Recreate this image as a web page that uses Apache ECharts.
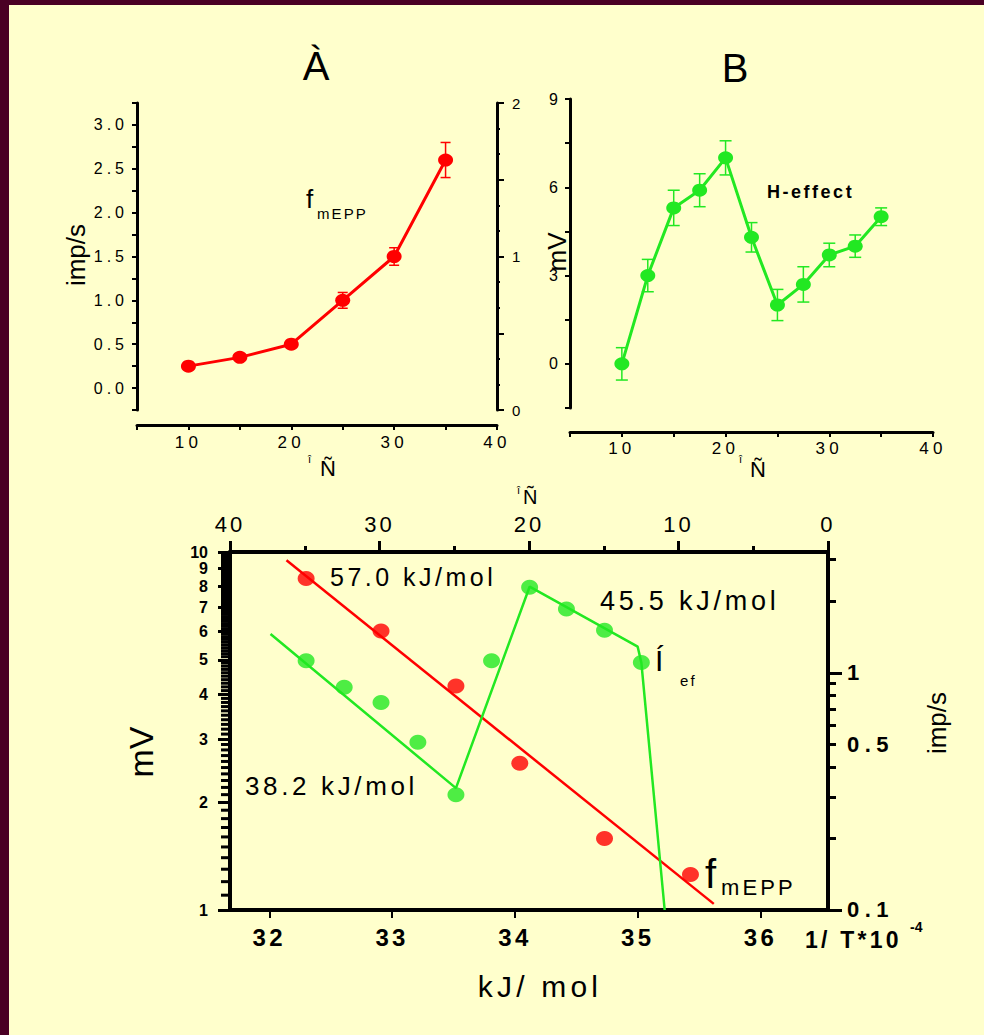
<!DOCTYPE html>
<html>
<head>
<meta charset="utf-8">
<script src="https://cdn.jsdelivr.net/npm/echarts@6/dist/echarts.min.js"></script>
<style>
  html, body { margin: 0; padding: 0; width: 984px; height: 1035px; overflow: hidden; background: #4a0024; }
  #panel { position: absolute; left: 9px; top: 5px; right: 0; bottom: 0; background: #ffffcc; }
  #chart { position: absolute; left: 0; top: 0; width: 984px; height: 1035px; }
  /* tracked lettering used by the labels and annotations */
  #chart text[style*="Liberation"] { letter-spacing: 0.14em; }
  #chart text[style*="DejaVu"] { letter-spacing: 0.25em; }
</style>
</head>
<body>
<div id="panel"></div>
<div id="chart"></div>
<script>
// ---- Panel A: mEPP frequency (imp/s) vs temperature (°C) ----
const tempA = [10, 15, 20, 25, 30, 35];
const fmeppA = [0.25, 0.35, 0.50, 1.00, 1.50, 2.60];
const fmeppErrA = [0.03, 0.03, 0.03, 0.09, 0.10, 0.20];

// ---- Panel B: H-effect (mV) vs temperature (°C) ----
const tempB = [10, 12.5, 15, 17.5, 20, 22.5, 25, 27.5, 30, 32.5, 35];
const hEffB = [0.0, 3.0, 5.3, 5.9, 7.0, 4.3, 2.0, 2.7, 3.7, 4.0, 5.0];
const hErrB = [0.55, 0.55, 0.60, 0.56, 0.58, 0.50, 0.53, 0.60, 0.40, 0.38, 0.30];

// ---- Panel C: Arrhenius plot, 1/T*10^-4 ----
const invTRed = [32.30, 32.91, 33.52, 34.04, 34.73, 35.43];
const fmeppC = [2.50, 1.50, 0.88, 0.415, 0.20, 0.141];
const fitRedX = [32.14, 35.62];
const fitRedY = [2.98, 0.106];
const invTGreen = [32.30, 32.61, 32.91, 33.21, 33.52, 33.81, 34.12, 34.42, 34.73, 35.03];
const hEffC = [4.97, 4.19, 3.80, 2.94, 2.10, 4.97, 7.97, 6.93, 6.05, 4.91];
const fitGreenX = [32.01, 33.52, 34.12, 35.00, 35.03, 35.22];
const fitGreenY = [5.90, 2.19, 8.00, 5.44, 4.91, 1.00];

// ---- tick labels ----
const invTTicks = [32, 33, 34, 35, 36];
const mVLogTicks = [1, 2, 3, 4, 5, 6, 7, 8, 9, 10];
const mVLabelsMain = [1, 2, 3, 4, 5, 6, 7, 8, 10];
const mVLabelsExtra = [9];
const mVLogFine = [];
for (let d = 1; d < 10; d++) for (let k = 1; k < 10; k++) mVLogFine.push(+(d + k / 10).toFixed(1));
const impLabels = [0.1, 0.5, 1];
const impMajorTicks = [0.1, 1];

const RED = '#ff0000';
const GREEN = '#22e822';
const FONT = "Arial, sans-serif";                          // plain lettering
const FONT_SP = "'Liberation Sans', Arial, sans-serif";    // tracked lettering
const FONT_WIDE = "'Liberation Sans', 'DejaVu Sans', sans-serif"; // widely tracked lettering
const zip = (...cols) => cols[0].map((_, i) => cols.map(c => c[i]));

function errorBars(color, halfCap) {
  return function (params, api) {
    const x = api.value(0), y = api.value(1), e = api.value(2);
    const top = api.coord([x, y + e]);
    const bot = api.coord([x, y - e]);
    const st = { stroke: color, lineWidth: 1.5 };
    return {
      type: 'group',
      children: [
        { type: 'line', shape: { x1: top[0], y1: top[1], x2: bot[0], y2: bot[1] }, style: st },
        { type: 'line', shape: { x1: top[0] - halfCap, y1: top[1], x2: top[0] + halfCap, y2: top[1] }, style: st },
        { type: 'line', shape: { x1: bot[0] - halfCap, y1: bot[1], x2: bot[0] + halfCap, y2: bot[1] }, style: st }
      ]
    };
  };
}

// fine 0.1-step ticks hanging off the left edge of the log mV axis
function fineTicks(params, api) {
  const c = api.coord([api.value(0), api.value(1)]);
  const x0 = params.coordSys.x;
  return { type: 'line', shape: { x1: x0 - 9, y1: c[1], x2: x0, y2: c[1] },
    style: { stroke: '#000', lineWidth: 3 } };
}

const axisLine = (w) => ({ show: true, onZero: false, lineStyle: { color: '#000', width: w } });
const noSplit = { show: false };
const plotC = { left: 230, top: 552, width: 598, height: 358, outerBoundsMode: 'none', containLabel: false };
const mVLabelStyle = { margin: 22, color: '#000', fontSize: 16, fontWeight: 'bold', fontFamily: FONT, hideOverlap: false };

const option = {
  animation: false,
  backgroundColor: 'transparent',
  textStyle: { fontFamily: FONT, color: '#000' },
  grid: [
    { left: 137, top: 103, width: 360, height: 307, outerBoundsMode: 'none', containLabel: false },
    { left: 570, top: 99, width: 363, height: 309, outerBoundsMode: 'none', containLabel: false },
    plotC,
    Object.assign({}, plotC) // same rectangle, carries the label for 9
  ],
  xAxis: [
    { // A: temperature
      type: 'value', gridIndex: 0, min: 5, max: 40, interval: 5, offset: 15,
      axisLine: axisLine(3), splitLine: noSplit,
      axisTick: { show: true, length: 5, lineStyle: { color: '#000', width: 2 } },
      axisLabel: { margin: 9, color: '#000', fontSize: 17, fontFamily: FONT_WIDE, hideOverlap: false,
        formatter: v => (v % 10 === 0 ? String(v) : '') }
    },
    { // B: temperature
      type: 'value', gridIndex: 1, min: 5, max: 40, interval: 5, offset: 24,
      axisLine: axisLine(3), splitLine: noSplit,
      axisTick: { show: true, length: 5, lineStyle: { color: '#000', width: 2 } },
      axisLabel: { margin: 8, color: '#000', fontSize: 17, fontFamily: FONT_WIDE, hideOverlap: false,
        formatter: v => (v % 10 === 0 ? String(v) : '') }
    },
    { // C bottom: 1/T
      type: 'value', gridIndex: 2, min: 31.68, max: 36.55, position: 'bottom',
      axisLine: axisLine(4), splitLine: noSplit,
      axisTick: { show: true, length: 8, customValues: invTTicks, lineStyle: { color: '#000', width: 2 } },
      axisLabel: { margin: 15, color: '#000', fontSize: 24, fontWeight: 'bold', fontFamily: FONT_SP,
        customValues: invTTicks, hideOverlap: false }
    },
    { // C top: temperature, decreasing to the right
      type: 'value', gridIndex: 2, min: 0, max: 40, interval: 10, inverse: true, position: 'top',
      axisLine: axisLine(4), splitLine: noSplit,
      axisTick: { show: true, length: 11, lineStyle: { color: '#000', width: 3 } },
      minorTick: { show: true, splitNumber: 2, length: 6, lineStyle: { color: '#000', width: 3 } },
      axisLabel: { margin: 17, color: '#000', fontSize: 22, fontFamily: FONT_SP, hideOverlap: false }
    },
    { // companion x for the second rectangle
      type: 'value', gridIndex: 3, min: 31.68, max: 36.55, show: false
    }
  ],
  yAxis: [
    { // 0: A imp/s
      type: 'value', gridIndex: 0, min: -0.25, max: 3.25, interval: 0.25, position: 'left',
      axisLine: axisLine(3), splitLine: noSplit,
      axisTick: { show: true, length: 5, lineStyle: { color: '#000', width: 2 } },
      axisLabel: { margin: 9, color: '#000', fontSize: 16, fontFamily: FONT_WIDE, hideOverlap: false,
        formatter: v => (Math.abs(v * 2 - Math.round(v * 2)) < 1e-6 ? v.toFixed(1) : '') }
    },
    { // 1: A right scale
      type: 'value', gridIndex: 0, min: 0, max: 2, interval: 0.5, position: 'right',
      axisLine: axisLine(3), splitLine: noSplit,
      axisTick: { show: true, length: 7, lineStyle: { color: '#000', width: 2 } },
      minorTick: { show: true, splitNumber: 3, length: 3, lineStyle: { color: '#000', width: 2 } },
      axisLabel: { margin: 15, color: '#000', fontSize: 15, fontFamily: FONT_WIDE, hideOverlap: false,
        formatter: v => (Number.isInteger(v) ? String(v) : '') }
    },
    { // 2: B mV
      type: 'value', gridIndex: 1, min: -1.5, max: 9, interval: 1.5, position: 'left',
      axisLine: axisLine(3), splitLine: noSplit,
      axisTick: { show: true, length: 5, lineStyle: { color: '#000', width: 2 } },
      axisLabel: { margin: 8, color: '#000', fontSize: 16, fontFamily: FONT_WIDE, hideOverlap: false,
        formatter: v => (v % 3 === 0 ? String(v) : '') }
    },
    { // 3: C mV (log), labelled ticks
      type: 'log', logBase: 10, gridIndex: 2, min: 1, max: 10.001, interval: 1, position: 'left',
      axisLine: axisLine(4), splitLine: noSplit,
      axisTick: { show: true, length: 12, customValues: mVLogTicks, lineStyle: { color: '#000', width: 3 } },
      axisLabel: Object.assign({ customValues: mVLabelsMain }, mVLabelStyle)
    },
    { // 4: C imp/s (log)
      type: 'log', logBase: 10, gridIndex: 2, min: 0.0999, max: 3.23, interval: 1, position: 'right',
      axisLine: axisLine(4), splitLine: noSplit,
      axisTick: { show: true, length: 14, customValues: impMajorTicks, lineStyle: { color: '#000', width: 3 } },
      minorTick: { show: true, splitNumber: 9, length: 8, lineStyle: { color: '#000', width: 3 } },
      axisLabel: { margin: 19, color: '#000', fontSize: 22, fontWeight: 'bold', fontFamily: FONT_WIDE,
        customValues: impLabels, hideOverlap: false, showMinLabel: true, showMaxLabel: true }
    },
    { // 5: C mV (log), the label for 9
      type: 'log', logBase: 10, gridIndex: 3, min: 1, max: 10.001, position: 'left',
      axisLine: { show: false }, splitLine: noSplit, axisTick: { show: false },
      axisLabel: Object.assign({ customValues: mVLabelsExtra }, mVLabelStyle)
    }
  ],
  series: [
    { type: 'custom', xAxisIndex: 0, yAxisIndex: 0, z: 2, renderItem: errorBars(RED, 5),
      data: zip(tempA, fmeppA, fmeppErrA) },
    { type: 'line', xAxisIndex: 0, yAxisIndex: 0, z: 3, data: zip(tempA, fmeppA),
      symbol: 'circle', symbolSize: [15, 13], itemStyle: { color: RED },
      lineStyle: { color: RED, width: 3 } },

    { type: 'custom', xAxisIndex: 1, yAxisIndex: 2, z: 2, renderItem: errorBars(GREEN, 6),
      data: zip(tempB, hEffB, hErrB) },
    { type: 'line', xAxisIndex: 1, yAxisIndex: 2, z: 3, data: zip(tempB, hEffB),
      symbol: 'circle', symbolSize: [15, 13], itemStyle: { color: GREEN },
      lineStyle: { color: GREEN, width: 3 } },

    { type: 'custom', xAxisIndex: 2, yAxisIndex: 3, z: 1, clip: false, silent: true, renderItem: fineTicks,
      data: mVLogFine.map(v => [invTTicks[0], v]) },

    { type: 'line', xAxisIndex: 2, yAxisIndex: 4, z: 2, data: zip(fitRedX, fitRedY),
      showSymbol: false, symbol: 'none', lineStyle: { color: RED, width: 2.5 } },
    { type: 'scatter', xAxisIndex: 2, yAxisIndex: 4, z: 3, data: zip(invTRed, fmeppC),
      symbol: 'circle', symbolSize: [17, 15], itemStyle: { color: RED } },
    { type: 'line', xAxisIndex: 2, yAxisIndex: 3, z: 2, data: zip(fitGreenX, fitGreenY),
      showSymbol: false, symbol: 'none', lineStyle: { color: GREEN, width: 2.5 } },
    { type: 'scatter', xAxisIndex: 2, yAxisIndex: 3, z: 3, data: zip(invTGreen, hEffC),
      symbol: 'circle', symbolSize: [17, 15], itemStyle: { color: GREEN } }
  ],
  graphic: []
};

// text helpers
function label(x, y, text, font, extra) {
  return { type: 'text', x: x, y: y, z: 10, silent: true,
    style: Object.assign({ text: text, font: font, fill: '#000', align: 'left', verticalAlign: 'middle' }, extra || {}) };
}
function vlabel(x, y, text, font) {
  return { type: 'text', x: x, y: y, z: 10, silent: true, rotation: Math.PI / 2,
    style: { text: text, font: font, fill: '#000', align: 'center', verticalAlign: 'middle' } };
}
const F = (s, w, fam) => (w ? w + ' ' : '') + s + 'px ' + (fam || FONT);

option.graphic = [
  // panel titles
  label(316, 66, 'À', F(40), { align: 'center' }),
  label(735, 68, 'B', F(40), { align: 'center' }),

  // panel A texts
  vlabel(76, 255, 'imp/s', F(26)),
  label(306, 199, 'f', F(26)),
  label(317, 213, 'mEPP', F(15, null, FONT_SP)),
  label(308, 459, 'î', F(11)),
  label(320, 468, 'Ñ', F(22)),

  // panel B texts
  vlabel(557, 252, 'mV', F(26)),
  label(767, 192, 'H-effect', F(18, 'bold', FONT_SP)),
  label(739, 459, 'î', F(11)),
  label(750, 469, 'Ñ', F(22)),

  // panel C texts
  label(517, 490, 'î', F(11)),
  label(523, 497, 'Ñ', F(20)),
  vlabel(141, 752, 'mV', F(34)),
  vlabel(937, 723, 'imp/s', F(26)),
  label(330, 577, '57.0 kJ/mol', F(25, null, FONT_SP)),
  label(600, 601, '45.5 kJ/mol', F(27, null, FONT_SP)),
  label(245, 786, '38.2 kJ/mol', F(26, null, FONT_SP)),
  label(655, 660, 'Í', F(30)),
  label(680, 680, 'ef', F(15, null, FONT_SP)),
  label(705, 874, 'f', F(40)),
  label(721, 887, 'mEPP', F(22, null, FONT_SP)),
  label(805, 940, '1/ T*10', F(23, 'bold', FONT_SP)),
  label(910, 927, '-4', F(14, 'bold')),
  label(540, 986, 'kJ/ mol', F(30, null, FONT_SP), { align: 'center' })
];

const chart = echarts.init(document.getElementById('chart'), null, { renderer: 'svg' });
chart.setOption(option);
</script>
</body>
</html>
